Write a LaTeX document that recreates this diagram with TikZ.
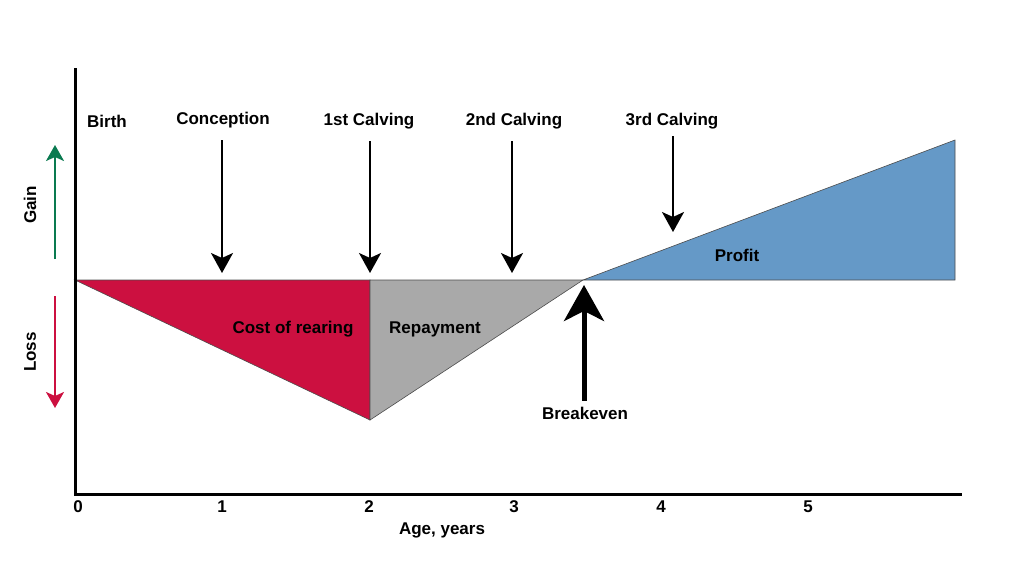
\documentclass[tikz,border=0pt]{standalone}
\usepackage{fontspec}
\setmainfont{Liberation Sans}
\usepackage{xcolor}
\usetikzlibrary{arrows.meta}
\definecolor{costred}{RGB}{204,16,64}
\definecolor{repgray}{RGB}{169,169,169}
\definecolor{profitblue}{RGB}{101,153,199}
\definecolor{gaingreen}{RGB}{10,122,80}
\tikzset{
  lbl/.style={font=\fontsize{17}{20}\selectfont\bfseries, inner sep=0pt},
  evarrow/.style={line width=2pt, -{Stealth[length=20pt,width=22pt,inset=5pt]}},
  sidearrow/.style={line width=2pt, -{Stealth[length=16pt,width=18pt,inset=4pt]}}
}
\begin{document}
\begin{tikzpicture}[x=1pt, y=-1pt]
            \useasboundingbox (0,0) rectangle (1024,576);
            \filldraw[fill=costred, draw=black!70, line width=0.6pt] (75,280)--(370,280)--(370,420)--cycle;
            \filldraw[fill=repgray, draw=black!70, line width=0.6pt] (370,280)--(583,280)--(370,420)--cycle;
            \filldraw[fill=profitblue, draw=black!70, line width=0.6pt] (583,280)--(955,280)--(955,140)--cycle;
            \draw[line width=3pt] (75,68)--(75,494)--(962,494);
            \node[lbl] (birth) at (107,121) {Birth};
            \node[lbl] (conc) at (223,120) {Conception};
            \node[lbl] (calv1) at (369,121) {1st Calving};
            \node[lbl] (calv2) at (514,121) {2nd Calving};
            \node[lbl] (calv3) at (672,121) {3rd Calving};
            \node[lbl] (profit) at (737,255) {Profit};
            \node[lbl] (cost) at (293,329) {Cost of rearing};
            \node[lbl] (repay) at (435,329) {Repayment};
            \node[lbl] (brk) at (585,413) {Breakeven};
            \node[lbl, rotate=90] (gain) at (30,205) {Gain};
            \node[lbl, rotate=90] (loss) at (30,352) {Loss};
            \node[lbl] (age) at (442,530) {Age, years};
            \foreach \n/\x in {0/78,1/222,2/369,3/514,4/661,5/808}
              \node[lbl] (t\n) at (\x,507) {\n};
            \coordinate (concTip) at (222,273);
            \coordinate (calv1Tip) at (370,273);
            \coordinate (calv2Tip) at (512,273);
            \coordinate (calv3Tip) at (673,232);
            \coordinate (brkTip) at (584,285);
            \draw[evarrow] (conc.south -| concTip) ++(0,12) -- (concTip);
            \draw[evarrow] (calv1.south -| calv1Tip) ++(0,12) -- (calv1Tip);
            \draw[evarrow] (calv2.south -| calv2Tip) ++(0,12) -- (calv2Tip);
            \draw[evarrow] (calv3.south -| calv3Tip) ++(0,7) -- (calv3Tip);
            \draw[line width=5pt, -{Stealth[length=36pt,width=40pt,inset=10pt]}] (brk.north -| brkTip) ++(0,-6) -- (brkTip);
            \coordinate (gainTip) at (55,145);
            \coordinate (gainEnd) at (55,259);
            \coordinate (lossTip) at (55,408);
            \coordinate (lossEnd) at (55,296);
            \draw[sidearrow, gaingreen] (gainEnd) -- (gainTip);
            \draw[sidearrow, costred] (lossEnd) -- (lossTip);
\end{tikzpicture}
\end{document}
